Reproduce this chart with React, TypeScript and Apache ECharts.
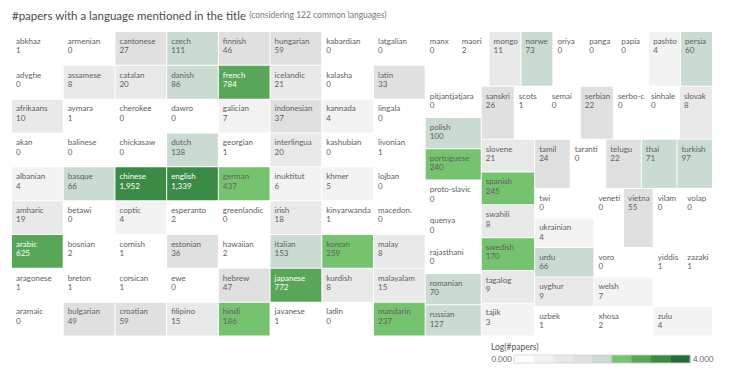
import React, { useEffect, useRef } from 'react';
import * as echarts from 'echarts';

const languages = [
  'abkhaz', 'adyghe', 'afrikaans', 'akan', 'albanian', 'amharic', 'arabic', 'aragonese', 'aramaic',
  'armenian', 'assamese', 'aymara', 'balinese', 'basque', 'betawi', 'bosnian', 'breton', 'bulgarian',
  'cantonese', 'catalan', 'cherokee', 'chickasaw', 'chinese', 'coptic', 'cornish', 'corsican', 'croatian',
  'czech', 'danish', 'dawro', 'dutch', 'english', 'esperanto', 'estonian', 'ewe', 'filipino',
  'finnish', 'french', 'galician', 'georgian', 'german', 'greenlandic', 'hawaiian', 'hebrew', 'hindi',
  'hungarian', 'icelandic', 'indonesian', 'interlingua', 'inuktitut', 'irish', 'italian', 'japanese', 'javanese',
  'kabardian', 'kalasha', 'kannada', 'kashubian', 'khmer', 'kinyarwanda', 'korean', 'kurdish', 'ladin',
  'latgalian', 'latin', 'lingala', 'livonian', 'lojban', 'macedon.', 'malay', 'malayalam', 'mandarin',
  'manx', 'maori', 'mongo', 'norwe', 'oriya', 'panga', 'papia', 'pashto', 'persia',
  'pitjantjatjara', 'polish', 'portuguese', 'proto-slavic', 'quenya', 'rajasthani', 'romanian', 'russian',
  'sanskri', 'scots', 'semai', 'serbian', 'serbo-c', 'sinhale', 'slovak',
  'slovene', 'spanish', 'swahili', 'swedish', 'tagalog', 'tajik',
  'tamil', 'taranti', 'telugu', 'thai', 'turkish',
  'twi', 'ukrainian', 'urdu', 'uyghur', 'uzbek',
  'veneti', 'vietna', 'vilam', 'volap',
  'voro', 'welsh', 'xhosa',
  'yiddis', 'zazaki', 'zulu',
];

const papers = [
  1, 0, 10, 0, 4, 19, 625, 1, 0,
  0, 8, 1, 0, 66, 0, 2, 1, 49,
  27, 20, 0, 0, 1952, 4, 1, 1, 59,
  111, 86, 0, 138, 1339, 2, 36, 0, 15,
  46, 784, 7, 1, 437, 0, 2, 47, 186,
  59, 21, 37, 20, 6, 18, 153, 772, 1,
  0, 0, 4, 0, 5, 1, 259, 8, 0,
  0, 33, 0, 1, 0, 0, 8, 15, 237,
  0, 2, 11, 73, 0, 0, 0, 4, 60,
  0, 100, 240, 0, 0, 0, 70, 127,
  26, 1, 0, 22, 0, 0, 8,
  21, 245, 8, 170, 9, 3,
  24, 0, 22, 71, 97,
  0, 4, 66, 9, 1,
  0, 55, 0, 0,
  0, 7, 2,
  1, 1, 4,
];

const stepColors = ['#ffffff', '#f3f3f3', '#e9e9e9', '#e0e0e0', '#cadbd2', '#76c36f', '#58a657', '#3b8b46', '#236f37'];
const logRange = [0, 4];
const legendTicks = ['0.000', '4.000'];
const titleText = '#papers with a language mentioned in the title';
const subtitleText = '(considering 122 common languages)';
const legendTitle = 'Log(#papers)';

const FONT = 'Lato, "Open Sans", sans-serif';

function stepOf(n: number): number | null {
  if (n <= 0) return null;
  const l = Math.log10(n);
  const s = Math.floor(((l - logRange[0]) / (logRange[1] - logRange[0])) * stepColors.length);
  return Math.max(0, Math.min(stepColors.length - 1, s));
}

export default function App() {
  const ref = useRef<HTMLDivElement>(null);
  useEffect(() => {
    if (!ref.current) return;
    const chart = echarts.init(ref.current, null, { renderer: 'svg' });

    const data = languages.map((name, i) => {
      const n = papers[i];
      const s = stepOf(n);
      return {
        name,
        value: 1,
        papers: n,
        itemStyle: { color: s === null ? '#ffffff' : stepColors[s] },
        label: { color: s !== null && s >= 6 ? '#ffffff' : '#606060' },
      };
    });

    const barX = 514, barY = 355, barW = 176, barH = 8;
    const legendChildren: any[] = stepColors.map((c, i) => ({
      type: 'rect',
      shape: { x: barX + (i * barW) / stepColors.length, y: barY, width: barW / stepColors.length + 0.4, height: barH },
      style: { fill: c },
    }));
    legendChildren.push({
      type: 'rect',
      shape: { x: barX, y: barY, width: barW, height: barH },
      style: { fill: 'none', stroke: '#cfcfcf', lineWidth: 0.8 },
    });
    legendChildren.push(
      { type: 'text', style: { text: legendTitle, x: 491, y: 347, textVerticalAlign: 'middle', fill: '#555', font: `8.5px ${FONT}` } },
      { type: 'text', style: { text: legendTicks[0], x: 512, y: 359, textAlign: 'right', textVerticalAlign: 'middle', fill: '#666', font: `8px ${FONT}` } },
      { type: 'text', style: { text: legendTicks[1], x: 693, y: 359, textAlign: 'left', textVerticalAlign: 'middle', fill: '#666', font: `8px ${FONT}` } },
    );

    chart.setOption({
      animation: false,
      title: {
        text: `${titleText} {s|${subtitleText}}`,
        left: 12,
        top: 9,
        padding: 0,
        textStyle: {
          fontFamily: FONT,
          fontSize: 11.5,
          fontWeight: 'normal',
          color: '#4a4a4a',
          rich: { s: { fontFamily: FONT, fontSize: 8.5, color: '#777' } },
        },
      },
      series: [
        {
          type: 'treemap',
          left: 12,
          top: 32,
          width: 700,
          height: 303.5,
          roam: false,
          nodeClick: false,
          sort: 'asc',
          visibleMin: 0,
          breadcrumb: { show: false },
          upperLabel: { show: false },
          itemStyle: { borderWidth: 0, gapWidth: 1, borderColor: '#fff' },
          levels: [
            { itemStyle: { borderWidth: 0, gapWidth: 1 } },
            { itemStyle: { borderWidth: 0, gapWidth: 0 } },
          ],
          label: {
            show: true,
            position: 'insideTopLeft',
            distance: 0,
            padding: [4, 2, 0, 4],
            fontFamily: FONT,
            fontSize: 8,
            lineHeight: 9.5,
            overflow: 'none',
            formatter: (p: any) => `${p.name}\n${(p.data.papers as number).toLocaleString('en-US')}`,
          },
          emphasis: { disabled: true },
          data,
        },
      ],
      graphic: [{ type: 'group', children: legendChildren }],
    });
    return () => chart.dispose();
  }, []);
  return <div ref={ref} style={{ position: 'absolute', left: 0, top: 0, width: 740, height: 375 }} />;
}
